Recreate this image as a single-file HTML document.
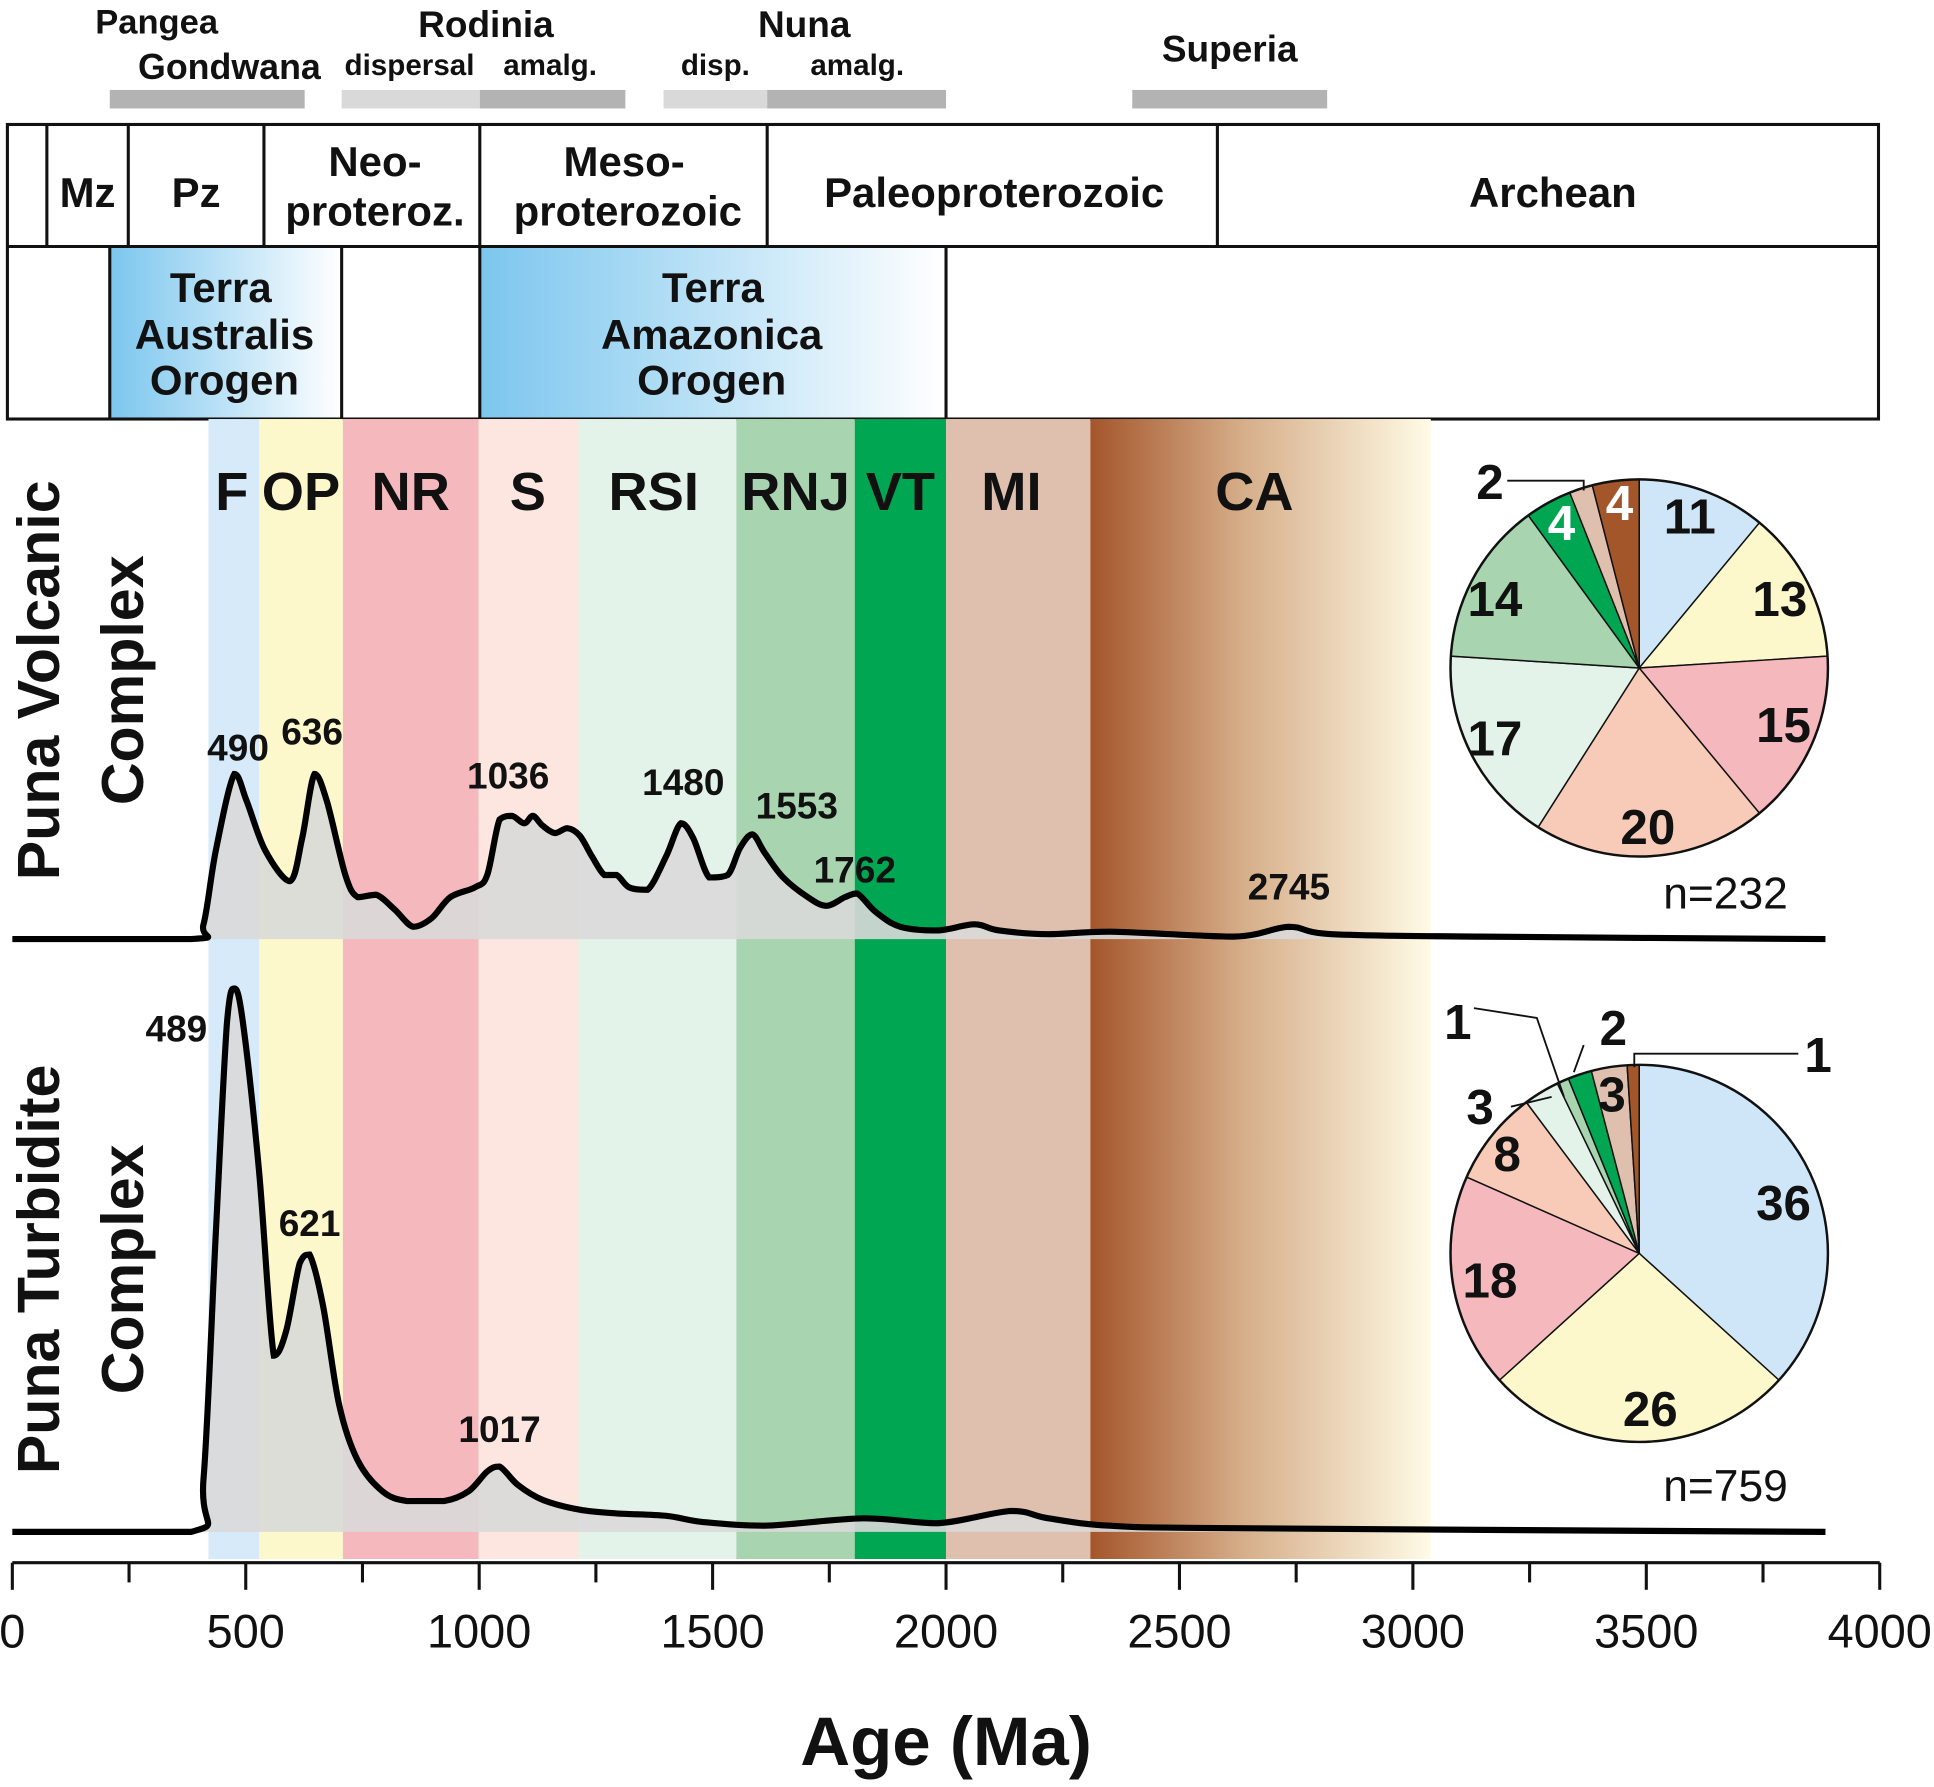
<!DOCTYPE html>
<html><head><meta charset="utf-8">
<style>
html,body{margin:0;padding:0;background:#fff;}
svg{display:block;}
text{font-family:"Liberation Sans",Arial,sans-serif;font-weight:bold;fill:#111;}
</style></head>
<body>
<svg id="s" width="1934" height="1787" viewBox="0 0 1568 1450" preserveAspectRatio="none" xmlns="http://www.w3.org/2000/svg">
<defs>
<linearGradient id="ta" x1="0" x2="1" y1="0" y2="0"><stop offset="0" stop-color="#7cc6ee"/><stop offset="1" stop-color="#ffffff"/></linearGradient>
<linearGradient id="ca" x1="0" x2="1" y1="0" y2="0"><stop offset="0" stop-color="#a4562b"/><stop offset="0.45" stop-color="#d6ae8a"/><stop offset="1" stop-color="#fffbe6"/></linearGradient>
</defs>
<rect x="89" y="73" width="158" height="15" fill="#b3b3b3"/>
<rect x="277" y="73" width="112" height="15" fill="#d9d9d9"/>
<rect x="389" y="73" width="118" height="15" fill="#b3b3b3"/>
<rect x="538" y="73" width="84" height="15" fill="#d9d9d9"/>
<rect x="622" y="73" width="145" height="15" fill="#b3b3b3"/>
<rect x="918" y="73" width="158" height="15" fill="#b3b3b3"/>
<text x="127" y="27" font-size="28" text-anchor="middle">Pangea</text>
<text x="186" y="64" font-size="29" text-anchor="middle">Gondwana</text>
<text x="394" y="30" font-size="30" text-anchor="middle">Rodinia</text>
<text x="332" y="61" font-size="24" text-anchor="middle">dispersal</text>
<text x="446" y="61" font-size="24" text-anchor="middle">amalg.</text>
<text x="652" y="30" font-size="30" text-anchor="middle">Nuna</text>
<text x="580" y="61" font-size="24" text-anchor="middle">disp.</text>
<text x="695" y="61" font-size="24" text-anchor="middle">amalg.</text>
<text x="997" y="50" font-size="30" text-anchor="middle">Superia</text>
<rect x="89" y="200" width="188" height="140" fill="url(#ta)"/>
<rect x="389" y="200" width="378" height="140" fill="url(#ta)"/>
<g stroke="#111" stroke-width="2.5" fill="none">
<rect x="6" y="101" width="1517" height="239"/>
<line x1="6" y1="200" x2="1523" y2="200"/>
<line x1="38" y1="101" x2="38" y2="200"/><line x1="104" y1="101" x2="104" y2="200"/>
<line x1="214" y1="101" x2="214" y2="200"/><line x1="389" y1="101" x2="389" y2="200"/>
<line x1="622" y1="101" x2="622" y2="200"/><line x1="987" y1="101" x2="987" y2="200"/>
<line x1="89" y1="200" x2="89" y2="340"/><line x1="277" y1="200" x2="277" y2="340"/>
<line x1="389" y1="200" x2="389" y2="340"/><line x1="767" y1="200" x2="767" y2="340"/>
</g>
<g font-size="34" text-anchor="middle">
<text x="71" y="168">Mz</text><text x="159" y="168">Pz</text>
<text x="304" y="143">Neo-</text><text x="304" y="183">proteroz.</text>
<text x="506" y="143">Meso-</text><text x="509" y="183">proterozoic</text>
<text x="806" y="168">Paleoproterozoic</text><text x="1259" y="168">Archean</text>
<text x="179" y="245">Terra</text><text x="182" y="283">Australis</text><text x="182" y="320">Orogen</text>
<text x="578" y="245">Terra</text><text x="577" y="283">Amazonica</text><text x="577" y="320">Orogen</text>
</g>
<g>
<rect x="169" y="340" width="41" height="925" fill="#d6eaf9"/>
<rect x="210" y="340" width="68" height="925" fill="#fdf8cc"/>
<rect x="278" y="340" width="110" height="925" fill="#f4b8bd"/>
<rect x="388" y="340" width="81" height="925" fill="#fde6df"/>
<rect x="469" y="340" width="128" height="925" fill="#e3f3e9"/>
<rect x="597" y="340" width="96" height="925" fill="#a8d5b0"/>
<rect x="693" y="340" width="74" height="925" fill="#00a651"/>
<rect x="767" y="340" width="117" height="925" fill="#dfc0ae"/>
<rect x="884" y="340" width="276" height="925" fill="url(#ca)"/>
</g>
<g font-size="44" text-anchor="middle">
<text x="188" y="414">F</text><text x="244" y="414">OP</text><text x="333" y="414">NR</text>
<text x="428" y="414">S</text><text x="530" y="414">RSI</text><text x="645" y="414">RNJ</text>
<text x="730" y="414">VT</text><text x="820" y="414">MI</text><text x="1017" y="414">CA</text>
</g>
<g id="curves"></g>
<g font-size="30" text-anchor="middle">
<text x="193" y="617">490</text><text x="253" y="604">636</text><text x="412" y="640">1036</text>
<text x="554" y="645">1480</text><text x="646" y="664">1553</text><text x="693" y="716">1762</text>
<text x="1045" y="730">2745</text>
<text x="143" y="845">489</text><text x="251" y="1003">621</text><text x="405" y="1170">1017</text>
</g>
<g font-size="48" text-anchor="middle">
<text transform="translate(48,552) rotate(-90)">Puna Volcanic</text>
<text transform="translate(116,552) rotate(-90)">Complex</text>
<text transform="translate(48,1030) rotate(-90)">Puna Turbidite</text>
<text transform="translate(116,1030) rotate(-90)">Complex</text>
</g>
<g id="pies"></g>
<g font-size="36" text-anchor="middle">
<text x="1399" y="737" style="font-weight:normal">n=232</text>
<text x="1399" y="1218" style="font-weight:normal">n=759</text>
</g>
<g stroke="#111" stroke-width="2.5" id="axis"><line x1="10" y1="1268" x2="1524" y2="1268"/></g>
<g font-size="38" text-anchor="middle" id="axl"></g>
<text x="767" y="1432" font-size="56" text-anchor="middle">Age (Ma)</text>
</svg>
<script>
var NS="http://www.w3.org/2000/svg";
function el(p,t,a,txt){var e=document.createElementNS(NS,t);for(var k in a)e.setAttribute(k,a[k]);if(txt!=null)e.textContent=txt;document.getElementById(p).appendChild(e);return e;}
for(var v=0;v<=4000;v+=250){var x=10+v*0.3785;el('axis','line',{x1:x,y1:1268,x2:x,y2:v%500==0?1290:1284});
if(v%500==0){var t=el('axl','text',{x:x,y:1337},v);t.style.fontWeight='normal';}}
function cl(v,a,b){var lo=Math.min(a,b),hi=Math.max(a,b);return Math.max(lo,Math.min(hi,v));}
function smooth(p){var d='M'+p[0][0]+','+p[0][1];for(var i=0;i<p.length-1;i++){var p0=p[i-1]||p[i],p1=p[i],p2=p[i+1],p3=p[i+2]||p2;
var c1x=p1[0]+(p2[0]-p0[0])/6,c1y=cl(p1[1]+(p2[1]-p0[1])/6,p1[1],p2[1]),c2x=p2[0]-(p3[0]-p1[0])/6,c2y=cl(p2[1]-(p3[1]-p1[1])/6,p1[1],p2[1]);
if(p1[1]==p2[1]){c1y=p1[1];c2y=p2[1];}
d+=' C'+c1x+','+c1y+' '+c2x+','+c2y+' '+p2[0]+','+p2[1];}return d;}
var v=[[10,762],[155,762],[165,750],[175,690],[190,628],[200,650],[215,690],[235,715],[245,680],[255,628],[265,650],[280,710],[290,728],[305,726],[320,738],[335,752],[350,745],[365,728],[385,720],[395,710],[405,665],[415,662],[425,668],[432,662],[440,670],[450,676],[460,672],[470,678],[480,695],[490,710],[500,710],[510,720],[525,722],[540,695],[552,668],[562,680],[575,712],[590,710],[600,688],[610,677],[620,692],[635,712],[655,728],[670,735],[685,728],[695,725],[710,740],[730,752],[760,755],[790,750],[810,755],[850,758],[900,756],[1000,760],[1045,752],[1080,758],[1200,760],[1480,762]];
var t=[[10,1243],[155,1243],[165,1200],[175,1000],[184,830],[190,802],[197,830],[210,950],[222,1100],[232,1080],[243,1025],[251,1018],[262,1060],[275,1140],[290,1185],[310,1210],[330,1218],[360,1218],[380,1210],[395,1194],[405,1190],[420,1205],[440,1217],[470,1225],[500,1228],[540,1230],[570,1235],[620,1238],[700,1232],[760,1236],[820,1226],[850,1232],[900,1238],[1000,1240],[1480,1243]];
[[v,762],[t,1243]].forEach(function(c){var d=smooth(c[0]);
el('curves','path',{d:d+' L1480,'+c[1]+' L10,'+c[1]+'Z',fill:'#d9d9d9','fill-opacity':0.9});
el('curves','path',{d:d,fill:'none',stroke:'#000','stroke-width':5});});
var cols=['#cfe6f8','#fdf8cc','#f4b8bd','#f8cbb8','#e3f3e9','#a8d5b0','#00a651','#dfc0ae','#a4562b'];
function pie(cx,cy,r,vals){var tot=vals.reduce(function(a,b){return a+b},0),a=0;
vals.forEach(function(v,i){var a1=a+v/tot*2*Math.PI;var x0=cx+r*Math.sin(a),y0=cy-r*Math.cos(a),x1=cx+r*Math.sin(a1),y1=cy-r*Math.cos(a1);
el('pies','path',{d:'M'+cx+','+cy+' L'+x0+','+y0+' A'+r+','+r+' 0 '+(a1-a>Math.PI?1:0)+' 1 '+x1+','+y1+'Z',fill:cols[i],stroke:'#111','stroke-width':1.2});a=a1;});
el('pies','circle',{cx:cx,cy:cy,r:r,fill:'none',stroke:'#111','stroke-width':2});}
pie(1329,542,153,[11,13,15,20,17,14,4,2,4]);
pie(1329,1017,153,[36,26,18,8,3,1,2,3,1]);
var L=[[1370,433,'11'],[1443,500,'13'],[1446,602,'15'],[1336,685,'20'],[1212,613,'17'],[1212,500,'14'],[1266,438,'4','#fff'],[1208,405,'2'],[1313,422,'4','#fff'],
[1446,990,'36'],[1338,1157,'26'],[1208,1053,'18'],[1222,950,'8'],[1200,912,'3'],[1182,843,'1'],[1308,848,'2'],[1307,902,'3'],[1474,870,'1']];
L.forEach(function(l){var e=el('pies','text',{x:l[0],y:l[1],'font-size':40,'text-anchor':'middle'},l[2]);if(l[3])e.style.fill=l[3];});
[[1222,390,1284,390,1284,398],[1225,898,1258,890],[1195,818,1246,826,1268,890],[1284,848,1276,870],[1458,855,1325,855,1325,866]].forEach(function(p){var d='M'+p[0]+','+p[1];for(var i=2;i<p.length;i+=2)d+=' L'+p[i]+','+p[i+1];el('pies','path',{d:d,fill:'none',stroke:'#111','stroke-width':1.5});});
</script>
</body></html>
